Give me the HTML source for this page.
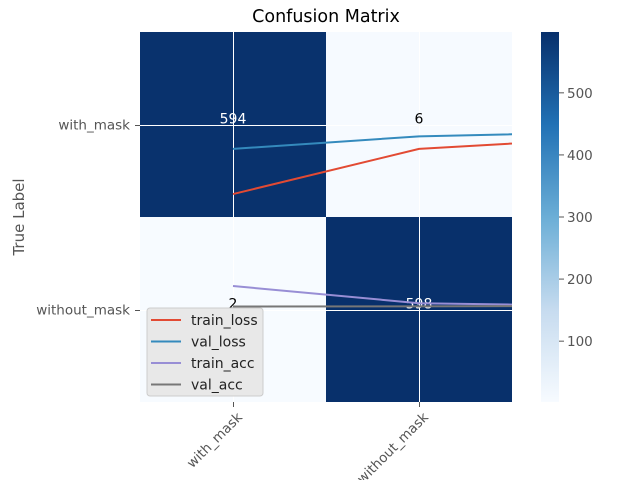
<!DOCTYPE html>
<html><head><meta charset="utf-8"><style>
body{margin:0;background:#fff}
svg text{font-family:"DejaVu Sans","Liberation Sans",sans-serif}
</style></head><body>
<svg id="c" width="640" height="480" xmlns="http://www.w3.org/2000/svg">
<defs>
<linearGradient id="cb" x1="0" y1="1" x2="0" y2="0">
<stop offset="0" stop-color="#f7fbff"/><stop offset="0.25" stop-color="#c6dbef"/>
<stop offset="0.5" stop-color="#6baed6"/><stop offset="0.75" stop-color="#2171b5"/>
<stop offset="1" stop-color="#08306b"/></linearGradient>
<clipPath id="ax"><rect x="140" y="32" width="372" height="370"/></clipPath>
</defs>
<g id="cells"></g><g id="grid"></g><g id="annot"></g><g id="lines" clip-path="url(#ax)"></g>
<text x="326" y="22" font-size="17.5" text-anchor="middle" fill="#000">Confusion Matrix</text>
<text transform="translate(24,217) rotate(-90)" font-size="15" text-anchor="middle" fill="#555">True Label</text>
<g id="ticks"></g>
<rect x="541" y="32" width="18" height="370" fill="url(#cb)"/>
<g id="cbticks"></g>
<g id="legend"></g>
</svg>
<script>
const labels=["with_mask","without_mask"];
const matrix=[[594,6],[2,598]];
const epochs=[0,1,2];
const trainLoss=[0.376,0.132,0.074];
const valLoss=[0.132,0.064,0.042];
const trainAcc=[0.873,0.966,0.981];
const valAcc=[0.984,0.983,0.981];
const cbTicks=[100,200,300,400,500];
const vmin=2,vmax=598;
const NS="http://www.w3.org/2000/svg";
const X=v=>140+(v+0.5)*186, Y=v=>32+(v+0.5)*185;
function mk(t,a,p){const e=document.createElementNS(NS,t);for(const k in a)e.setAttribute(k,a[k]);document.getElementById(p).appendChild(e);return e;}
function col(v){const t=(v-vmin)/(vmax-vmin);const s=[[247,251,255],[198,219,239],[107,174,214],[33,113,181],[8,48,107]];const f=t*4,i=Math.min(3,Math.floor(f)),r=f-i;return 'rgb('+s[i].map((c,j)=>Math.round(c+(s[i+1][j]-c)*r)).join(',')+')';}
matrix.forEach((row,i)=>row.forEach((v,j)=>{
 const r=mk('rect',{x:X(j-0.5),y:Y(i-0.5),width:186,height:185,fill:col(v)},'cells');
 
 
}));
labels.forEach((l,i)=>{
 const gx=Math.round(X(i))+0.5, gy=Math.round(Y(i))+0.5;
 mk('line',{x1:gx,x2:gx,y1:32,y2:402,stroke:'#fff','stroke-width':1},'grid');
 mk('line',{x1:140,x2:512,y1:gy,y2:gy,stroke:'#fff','stroke-width':1},'grid');
 mk('line',{x1:gx,x2:gx,y1:402,y2:407,stroke:'#555'},'ticks');
 mk('line',{x1:135,x2:140,y1:gy,y2:gy,stroke:'#555'},'ticks');
 const yt=mk('text',{x:130,y:Y(i)+5,'font-size':13.5,'text-anchor':'end',fill:'#555'},'ticks');yt.textContent=l;
 
 
 const xt=mk('text',{transform:'translate('+(X(i)+10)+',418) rotate(-45)','font-size':13.5,'text-anchor':'end',fill:'#555'},'ticks');xt.textContent=l;
 
 
});
matrix.forEach((row,i)=>row.forEach((v,j)=>{
 const t=mk('text',{x:X(j),y:Y(i)-1,'font-size':14,'text-anchor':'middle',fill:v>300?'#fff':'#000'},'annot');t.textContent=v;
 
 
}));
const series=[["train_loss",trainLoss,"#e24a33"],["val_loss",valLoss,"#348abd"],["train_acc",trainAcc,"#988ed5"],["val_acc",valAcc,"#777777"]];
series.forEach(([n,d,c])=>{
 const p=mk('polyline',{points:d.map((v,i)=>X(epochs[i])+','+Y(v)).join(' '),fill:'none',stroke:c,'stroke-width':2},'lines');
 
 
});
cbTicks.forEach(v=>{const y=402-(v-vmin)/(vmax-vmin)*370;
 mk('line',{x1:559,x2:564,y1:y,y2:y,stroke:'#555'},'cbticks');
 const t=mk('text',{x:567,y:y+5,'font-size':13.5,fill:'#555'},'cbticks');t.textContent=v;
 
 
});
mk('rect',{x:147,y:308,width:116,height:88,rx:3,fill:'#e5e5e5',stroke:'#ccc','fill-opacity':0.9},'legend');
series.forEach(([n,d,c],i)=>{const y=320+i*21.5;
 mk('line',{x1:151,x2:181,y1:y,y2:y,stroke:c,'stroke-width':2},'legend');
 const t=mk('text',{x:191,y:y+5,'font-size':14,fill:'#222'},'legend');t.textContent=n;
 
 
});
</script>
</body></html>
